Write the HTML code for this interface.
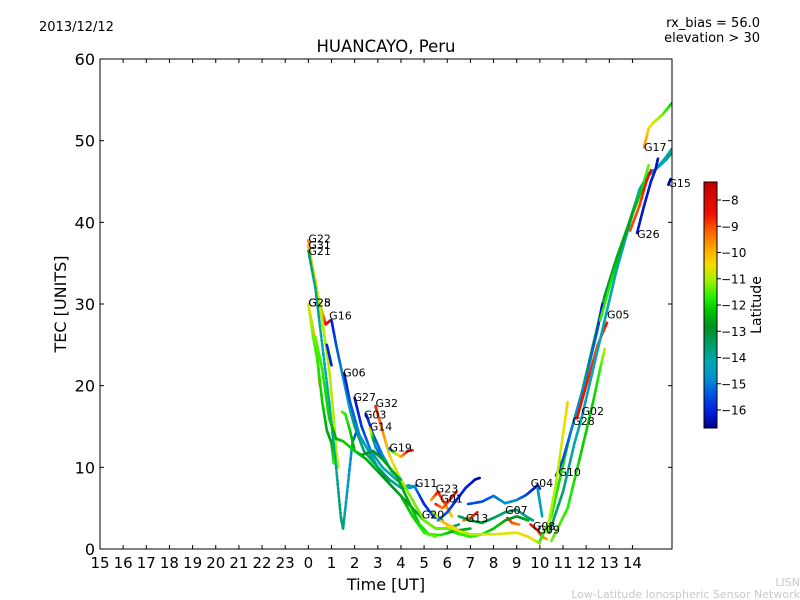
<!DOCTYPE html>
<html><head><meta charset="utf-8"><style>
html,body{margin:0;padding:0;background:#fff;}
svg{display:block;font-family:"DejaVu Sans","Liberation Sans",sans-serif;}
</style></head><body>
<svg id="chart" width="800" height="600" viewBox="0 0 800 600">
<text x="39" y="31" font-size="13">2013/12/12</text>
<text x="386" y="52" font-size="16.5" text-anchor="middle">HUANCAYO, Peru</text>
<text x="760" y="27" font-size="13" text-anchor="end">rx_bias = 56.0</text>
<text x="760" y="42" font-size="13" text-anchor="end">elevation &gt; 30</text>
<text transform="translate(66,304) rotate(-90)" font-size="16" text-anchor="middle">TEC [UNITS]</text>
<text x="386" y="590" font-size="16" text-anchor="middle">Time [UT]</text>
<text x="800" y="586" font-size="11" fill="#c8c8c8" text-anchor="end">LISN</text>
<text x="800" y="598" font-size="11" fill="#c8c8c8" text-anchor="end">Low-Latitude Ionospheric Sensor Network</text>
<defs>
<linearGradient id="cmap" x1="0" y1="1" x2="0" y2="0">
<stop offset="0" stop-color="#00008f"/><stop offset="0.07" stop-color="#0020e0"/>
<stop offset="0.15" stop-color="#0060e0"/><stop offset="0.2" stop-color="#0090d0"/>
<stop offset="0.27" stop-color="#00a8b0"/><stop offset="0.33" stop-color="#00a070"/>
<stop offset="0.41" stop-color="#009020"/><stop offset="0.47" stop-color="#00c000"/>
<stop offset="0.53" stop-color="#20f000"/><stop offset="0.6" stop-color="#a0f000"/>
<stop offset="0.66" stop-color="#f0e000"/><stop offset="0.72" stop-color="#ffb000"/>
<stop offset="0.8" stop-color="#ff6000"/><stop offset="0.87" stop-color="#f01000"/>
<stop offset="1" stop-color="#c00000"/>
</linearGradient>
<clipPath id="plotclip"><rect x="100" y="59" width="572" height="490"/></clipPath>
</defs>
<g id="axes"></g>
<g id="marks" clip-path="url(#plotclip)"></g>
<g id="labels"></g>
<rect x="100" y="59" width="572" height="490" fill="none" stroke="#000" stroke-width="1"/>
<rect x="704" y="182" width="13" height="246" fill="url(#cmap)" stroke="#000" stroke-width="1"/>
<text transform="translate(761,305) rotate(-90)" font-size="14" text-anchor="middle">Latitude</text>
<g id="cbticks"></g>
</svg>
<script>
const hourLabels = ["15","16","17","18","19","20","21","22","23","0","1","2","3","4","5","6","7","8","9","10","11","12","13","14"];
const yTicks = [0,10,20,30,40,50,60];
const cbTicks = [-8,-9,-10,-11,-12,-13,-14,-15,-16];
const satNames = ["G22","G31","G21","G25","G28","G16","G06","G27","G32","G03","G14","G19","G11","G23","G01","G20","G13","G07","G04","G08","G09","G10","G02","G28","G05","G26","G17","G15"];
const satLabelT = [0,0,0,0,0,0.9,1.5,1.95,2.9,2.4,2.65,3.5,4.6,5.5,5.7,4.9,6.8,8.5,9.6,9.7,9.9,10.8,11.8,11.4,12.9,14.2,14.5,15.55];
const satLabelV = [38,37.2,36.5,30.2,30.2,28.6,21.6,18.6,17.9,16.5,15,12.4,8.1,7.4,6.2,4.2,3.8,4.8,8.1,2.8,2.4,9.4,16.9,15.7,28.7,38.6,49.2,44.8];

const t1=[0,0.2,0.4,0.6,0.75,0.95], v1=[37.8,34,31,29,27.5,28], l1=[-9,-10,-10.5,-9.5,-8,-7.8];
const t2=[0,0.3,0.6,0.9,1.1,1.2,1.3], v2=[37,33,28,22,16,12,10], l2=[-9.5,-10.5,-11,-11,-11,-11,-11];
const t3=[0,0.3,0.6,0.9,1.2,1.4,1.5,1.6,1.75,1.9,2.1], v3=[36.5,32,25,18,10,4,2.5,5,9,13,14.5], l3=[-14,-14.2,-14.5,-14.5,-14.3,-14,-14,-14.5,-15,-15,-15.5];
const t4=[0,0.2,0.4,0.5], v4=[30,27,23,20], l4=[-10,-9.5,-9,-8.5];
const t5=[0,0.2,0.4,0.6,0.8,1.0,1.1], v5=[30,26,23,18,14.5,13,10.5], l5=[-10.5,-11.5,-12,-12.5,-13,-13,-12];
const t6=[1.0,1.2,1.5,1.8,2.0,2.4,3,3.5,4,4.4,4.7], v6=[28,25,21,17,15,12,10,8.5,7.5,7.5,7.8], l6=[-16.2,-15.5,-15,-14.5,-14,-14,-14,-14,-14.5,-15,-15.5];
const t7=[1.55,1.8,2.2,2.6,3.0,3.5,4.0,4.5,5,5.5,6,6.5], v7=[21.5,18,14,12,10,8,6.5,5,3.5,2.5,2.5,3], l7=[-16.3,-15.5,-15,-14.5,-14,-13.5,-13.5,-13,-13,-13.5,-14,-14];
const t8=[2.0,2.3,2.7,3.2,3.8,4.3,4.6], v8=[18.5,15,12,10,8.5,7.5,7.7], l8=[-16.3,-15.8,-15,-14.5,-14.5,-14.8,-15];
const t9=[2.9,3.2,3.5,3.9,4.5,5,5.5,6,6.5], v9=[17.5,14.5,11.5,9,6,3.5,2.5,2.5,2], l9=[-8,-9,-10,-11,-11.5,-11.5,-11.5,-11.5,-12];
const t10=[2.5,2.8,3.2,3.6,4], v10=[16.5,14,11.5,9.5,8.5], l10=[-16,-15.5,-15,-14.5,-14];
const t11=[2.65,2.9,3.2], v11=[14.8,12.5,11], l11=[-9.5,-15,-15.5];
const t12=[3.5,3.7,4.0,4.3,4.5], v12=[12.3,11.8,11.3,12,12.1], l12=[-16,-12,-9.5,-8,-7.8];
const t13=[1.45,1.6,1.8,2.0,2.3,2.8,3.2,3.8,4.3,4.8,5.2,5.7,6.3,7], v13=[16.8,16.5,14.5,12,11.5,12,11,9,6,3,1.8,1.7,2.2,2.5], l13=[-11.5,-12,-12.5,-13,-13,-13.5,-13,-13,-13,-12.5,-12,-12,-13,-13];
const t14=[0.3,0.6,0.9,1.2,1.5,2,2.5,3,3.5,4,4.5,5,5.5], v14=[26,22,16,13.5,13.2,12,11,9.5,8,6.5,4,2,1.5], l14=[-11.5,-12,-12.5,-13,-12.5,-12.5,-13,-13,-13.5,-13,-12.5,-12,-11.5];
const t15=[4.3,4.6,5,5.4,5.8], v15=[7.8,7.6,5.5,4,3.5], l15=[-14.5,-15,-16,-15.5,-15];
const t16=[5.3,5.6,5.8,6,6.2], v16=[6,7,6,5,4], l16=[-9.5,-8,-8.5,-9,-10];
const t17=[5.5,5.8,6.1,6.4], v17=[5.5,5,6,7], l17=[-8,-9,-8,-8];
const t18=[5.4,5.7,6,6.4], v18=[4.5,3.5,3,2.5], l18=[-11.5,-10,-9.5,-10];
const t19=[5.6,6.0,6.4,6.8,7.2,7.4], v19=[3.5,4.5,6,7.5,8.5,8.7], l19=[-15,-15.5,-16,-16,-16.3,-16.5];
const t20=[6.9,7.5,8,8.5,9,9.4,9.7,9.9,10], v20=[5.5,5.8,6.5,5.6,6,6.6,7.3,7.8,7.4], l20=[-15.5,-15.5,-15.2,-15,-15,-15.5,-16,-16.3,-16];
const t21=[9.9,10.1], v21=[7.5,4], l21=[-15,-14.5];
const t22=[6.7,7,7.3], v22=[3.5,3.8,4.5], l22=[-9,-8.5,-8];
const t23=[6.5,7,7.5,8,8.5,9,9.4,9.7], v23=[4,3.5,3.2,3.8,4.5,4.8,4,3.5], l23=[-14,-13.5,-13.5,-13.8,-14,-14,-14.2,-14];
const t24=[8.6,8.8,9.1], v24=[3.8,3.2,3], l24=[-8,-8.5,-9];
const t25=[6.3,7,7.5,8,8.5,9,9.5], v25=[2,1.5,1.8,2.5,3.5,4,3.5], l25=[-12,-12,-12,-12.5,-13,-13.5,-13];
const t26=[6,6.5,7,8,9,9.5,9.8,10], v26=[2.8,2.2,1.8,1.8,2,1.5,1,0.7], l26=[-10,-10.5,-11,-10.5,-10.5,-10,-10.5,-11.5];
const t27=[9.6,9.9,10.1,10.3], v27=[3,2.3,1.5,1.2], l27=[-8,-8,-8.5,-9.5];
const t28=[10,10.5,10.9,11.3,11.8,12.3,12.8,13.3,13.8,14.2,14.6,15.0,15.4,15.7], v28=[1,4,9,14,19,25,31,35.5,39.5,43,45.5,46.5,47.8,49], l28=[-12,-12,-12.2,-12.5,-13,-13,-13.5,-13.5,-13.5,-13.8,-14,-14.2,-14.5,-14.5];
const t29=[10.7,11,11.5,12,12.5,12.7], v29=[9,11,16,21,27,30], l29=[-16,-15.5,-15,-15,-15.5,-16.3];
const t30=[10.3,10.7,11,11.2], v30=[2,8,14,18], l30=[-11,-11,-10.5,-10];
const t31=[11.6,12,12.5,12.9], v31=[16,20,25,27.7], l31=[-8,-8,-8.5,-8];
const t32=[10.5,11.2,11.8,12.3,12.6,12.8], v32=[1,5,12,18,22,24.5], l32=[-11.5,-12,-12.5,-12.5,-12,-11];
const t33=[10.4,11,11.5,11.8,12.3,12.8,13.3,13.8,14.3,14.7,15,15.4,15.7], v33=[2,7,13,16,22,28,34,39,44,46,46.5,47.5,48.5], l33=[-14,-14,-14.5,-14.5,-14.5,-14.5,-14.5,-14.5,-14.5,-15,-15,-14.5,-14];
const t34=[12.6,13,13.5,14,14.4,14.7], v34=[28,32,37,41,44,47], l34=[-12,-12,-13,-13,-12.5,-11.5];
const t35=[14.5,14.7,14.9,15.3,15.7], v35=[49.2,51.5,52.2,53.2,54.6], l35=[-9,-10,-10.5,-11.5,-12.5];
const t36=[14.2,14.5,14.8,15,15.1], v36=[38.7,42,45,46.5,47.8], l36=[-16.2,-16.2,-16,-16.2,-16.3];
const t37=[13.9,14.3,14.6,14.8], v37=[39,42,45,46.4], l37=[-8.5,-8.5,-8,-7.8];
const t38=[15.55,15.65], v38=[44.6,45.3], l38=[-16.3,-16.3];
const t39=[0.8,1.0], v39=[25,22.5], l39=[-16,-16];

const tracks=[[t1,v1,l1],[t2,v2,l2],[t3,v3,l3],[t4,v4,l4],[t5,v5,l5],[t6,v6,l6],[t7,v7,l7],[t8,v8,l8],[t9,v9,l9],[t10,v10,l10],[t11,v11,l11],[t12,v12,l12],[t13,v13,l13],[t14,v14,l14],[t15,v15,l15],[t16,v16,l16],[t17,v17,l17],[t18,v18,l18],[t19,v19,l19],[t20,v20,l20],[t21,v21,l21],[t22,v22,l22],[t23,v23,l23],[t24,v24,l24],[t25,v25,l25],[t26,v26,l26],[t27,v27,l27],[t28,v28,l28],[t29,v29,l29],[t30,v30,l30],[t31,v31,l31],[t32,v32,l32],[t33,v33,l33],[t34,v34,l34],[t35,v35,l35],[t36,v36,l36],[t37,v37,l37],[t38,v38,l38],[t39,v39,l39]];

const NS="http://www.w3.org/2000/svg";
const X0=100, HW=23.15, ZERO=X0+9*HW;
function xs(t){return ZERO+t*HW;}
function ys(v){return 549-v*490/60;}
function cbY(l){return 200+(-8-l)*26.25;}
const stops=[[-16.7,[0,0,143]],[-16,[0,32,224]],[-15.3,[0,96,224]],[-15,[0,144,208]],[-14.5,[0,168,176]],[-14,[0,160,112]],[-13.3,[0,144,32]],[-12.7,[0,192,0]],[-12,[32,240,0]],[-11.2,[160,240,0]],[-10.3,[240,224,0]],[-9.5,[255,176,0]],[-8.7,[255,96,0]],[-8,[240,16,0]],[-7.3,[192,0,0]]];
function col(l){
  if(l<=stops[0][0])return "rgb("+stops[0][1]+")";
  for(let i=1;i<stops.length;i++){if(l<=stops[i][0]){const a=stops[i-1],b=stops[i];const f=(l-a[0])/(b[0]-a[0]);const c=a[1].map((v,k)=>Math.round(v+(b[1][k]-v)*f));return "rgb("+c+")";}}
  return "rgb("+stops[stops.length-1][1]+")";
}
function mk(tag,attrs,parent){const e=document.createElementNS(NS,tag);for(const k in attrs)e.setAttribute(k,attrs[k]);parent.appendChild(e);return e;}

const axes=document.getElementById('axes');
hourLabels.forEach((h,i)=>{
  const x=X0+i*HW;
  if(i>0){
    const tb=mk('line',{x1:x,x2:x,y1:549,y2:545,stroke:'#000'},axes);
    
    
    const tt=mk('line',{x1:x,x2:x,y1:59,y2:63,stroke:'#000'},axes);
    
    
  }
  const tx=mk('text',{x:x,y:568,'font-size':15,'text-anchor':'middle'},axes);
  tx.textContent=h;
  
  
});
yTicks.forEach(v=>{
  const y=ys(v);
  const a=mk('line',{x1:100,x2:104,y1:y,y2:y,stroke:'#000'},axes);
  
  
  const b=mk('line',{x1:668,x2:672,y1:y,y2:y,stroke:'#000'},axes);
  
  
  const tx=mk('text',{x:95,y:y+6,'font-size':16,'text-anchor':'end'},axes);
  tx.textContent=v;
  
  
});
const cb=document.getElementById('cbticks');
cbTicks.forEach(l=>{
  const y=cbY(l);
  const a=mk('line',{x1:717,x2:721,y1:y,y2:y,stroke:'#000'},cb);
  
  
  const tx=mk('text',{x:721,y:y+4.5,'font-size':12},cb);
  tx.textContent='\u2212'+(-l);
  
  
});

const marks=document.getElementById('marks');
tracks.forEach((tr,ti)=>{
  const [T,V,L]=tr;
  const g=mk('g',{},marks);
  
  
  for(let i=0;i<T.length-1;i++){
    const n=6;
    for(let k=0;k<n;k++){
      const f0=k/n,f1=(k+1)/n;
      const tA=T[i]+(T[i+1]-T[i])*f0,tB=T[i]+(T[i+1]-T[i])*f1;
      const vA=V[i]+(V[i+1]-V[i])*f0,vB=V[i]+(V[i+1]-V[i])*f1;
      const lM=L[i]+(L[i+1]-L[i])*(f0+f1)/2;
      const s=mk('line',{x1:xs(tA),y1:ys(vA),x2:xs(tB),y2:ys(vB),stroke:col(lM),'stroke-width':2.6,'stroke-linecap':'round'},g);
      if(ti===2) s.setAttribute('stroke-dasharray','2 2');
      
      
    }
  }
});

const lab=document.getElementById('labels');
satNames.forEach((n,i)=>{
  const tx=mk('text',{x:xs(satLabelT[i]),y:ys(satLabelV[i])+4,'font-size':11},lab);
  tx.textContent=n;
  
  
});
</script>
</body></html>
